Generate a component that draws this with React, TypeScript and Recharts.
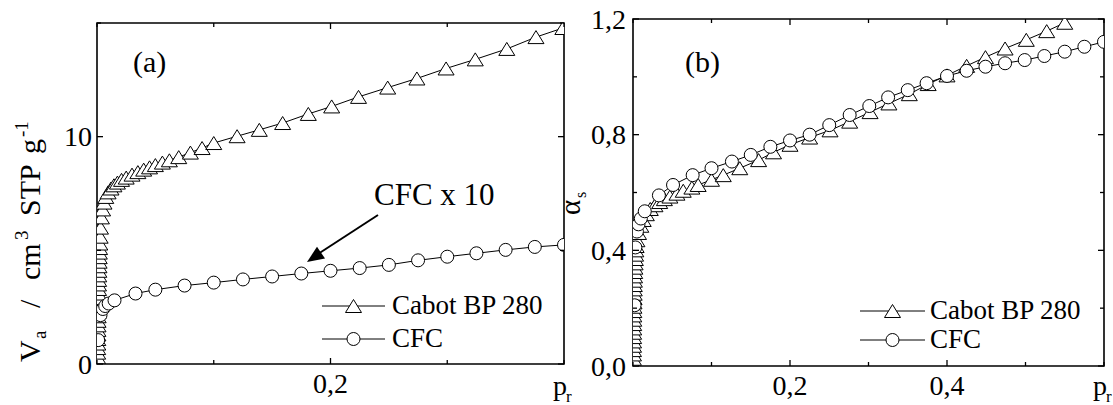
import { Legend, Line, LineChart, ReferenceArea, XAxis, YAxis } from "recharts"

const FONT = '"Liberation Serif", "Times New Roman", serif'

// ---- panel (a): adsorbed volume vs relative pressure
const cabotAP = [
  0.0005, 0.0005, 0.0006, 0.0006, 0.0007, 0.0007, 0.0008, 0.0008, 0.0009, 0.0009, 0.001, 0.001, 0.0011, 0.0011,
  0.0012, 0.0012, 0.0013, 0.0013, 0.0014, 0.0015, 0.0016, 0.0017, 0.0018, 0.0019, 0.002, 0.0022, 0.0024, 0.0027,
  0.003, 0.0038, 0.0048, 0.006, 0.0075, 0.0095, 0.012, 0.0145, 0.0175, 0.021, 0.025, 0.03, 0.035, 0.04, 0.045,
  0.05, 0.056, 0.062, 0.07, 0.08, 0.09, 0.1, 0.12, 0.139, 0.159, 0.181, 0.201, 0.224, 0.249, 0.274, 0.299, 0.324,
  0.351, 0.376, 0.399,
]
const cabotAV = [
  0.1, 0.3, 0.5, 0.7, 0.9, 1.1, 1.3, 1.5, 1.7, 1.9, 2.1, 2.3, 2.5, 2.7, 2.9, 3.1, 3.3, 3.5, 3.7, 3.9, 4.1, 4.3, 4.5,
  4.7, 4.9, 5.1, 5.3, 5.6, 6.0, 6.45, 6.8, 7.1, 7.35, 7.55, 7.72, 7.86, 7.98, 8.1, 8.2, 8.33, 8.44, 8.55, 8.65, 8.75,
  8.86, 8.96, 9.1, 9.3, 9.5, 9.72, 10.02, 10.3, 10.6, 11.0, 11.33, 11.75, 12.16, 12.56, 13.0, 13.4, 13.86, 14.38,
  14.78,
]
const cfcAP = [
  0.001, 0.003, 0.005, 0.007, 0.01, 0.015, 0.033, 0.05, 0.075, 0.1, 0.125, 0.15, 0.175, 0.2, 0.225, 0.25, 0.275,
  0.3, 0.325, 0.35, 0.375, 0.4,
]
const cfcAV = [
  1.05, 2.15, 2.42, 2.55, 2.66, 2.8, 3.1, 3.27, 3.45, 3.58, 3.72, 3.85, 3.98, 4.1, 4.22, 4.36, 4.56, 4.72, 4.87,
  5.02, 5.15, 5.24,
]
const aXTicks = [0, 0.1, 0.2, 0.3, 0.4]
const aXLabels = [0.2]
const aYTicks = [0, 5, 10, 15]
const aYLabels = [0, 10]

// ---- panel (b): alpha_s vs relative pressure
const cabotBP = [
  0.0005, 0.0005, 0.0006, 0.0006, 0.0007, 0.0007, 0.0008, 0.0008, 0.0009, 0.0009, 0.001, 0.001, 0.0011, 0.0012,
  0.0013, 0.0014, 0.0015, 0.0016, 0.0017, 0.0018, 0.002, 0.0022, 0.0024, 0.0027, 0.003, 0.0033, 0.0036, 0.004,
  0.005, 0.007, 0.01, 0.013, 0.017, 0.022, 0.028, 0.034, 0.04, 0.047, 0.056, 0.064, 0.075, 0.083, 0.1, 0.115,
  0.136, 0.16, 0.179, 0.2, 0.225, 0.251, 0.276, 0.302, 0.326, 0.352, 0.376, 0.4, 0.425, 0.449, 0.474, 0.501, 0.527,
  0.55,
]
const cabotBA = [
  0.01, 0.025, 0.04, 0.055, 0.07, 0.085, 0.1, 0.115, 0.13, 0.145, 0.16, 0.175, 0.19, 0.205, 0.22, 0.235, 0.25,
  0.265, 0.28, 0.295, 0.31, 0.325, 0.34, 0.355, 0.37, 0.385, 0.4, 0.415, 0.435, 0.46, 0.485, 0.505, 0.525, 0.543,
  0.556, 0.567, 0.577, 0.586, 0.596, 0.606, 0.617, 0.626, 0.644, 0.66, 0.684, 0.712, 0.739, 0.765, 0.79, 0.815,
  0.845, 0.878, 0.908, 0.94, 0.975, 1.005, 1.038, 1.068, 1.098, 1.128, 1.158, 1.187,
]
const cfcBP = [
  0.002, 0.003, 0.005, 0.007, 0.01, 0.015, 0.033, 0.051, 0.076, 0.1, 0.126, 0.15, 0.175, 0.2, 0.225, 0.25, 0.276,
  0.301, 0.325, 0.35, 0.374, 0.4, 0.425, 0.449, 0.474, 0.499, 0.524, 0.55, 0.575, 0.6,
]
const cfcBA = [
  0.21, 0.41, 0.465, 0.49, 0.51, 0.535, 0.59, 0.626, 0.66, 0.684, 0.707, 0.73, 0.758, 0.78, 0.8, 0.833, 0.868,
  0.899, 0.929, 0.954, 0.978, 1.003, 1.021, 1.035, 1.047, 1.058, 1.072, 1.087, 1.104, 1.121,
]
const bXTicks = [0, 0.1, 0.2, 0.3, 0.4, 0.5, 0.6]
const bXLabels = [0.2, 0.4]
const bYTicks = [0, 0.2, 0.4, 0.6, 0.8, 1, 1.2]
const bYLabels = [0, 0.4, 0.8, 1.2]

const legendOrder = ["Cabot BP 280", "CFC"]

const zip = (xs: number[], ys: number[]) => xs.map((p, i) => ({ p, y: ys[i] }))

const Triangle = (props: any) => {
  const { cx, cy } = props
  if (cx == null || cy == null) return <g key={props.index} />
  return (
    <path
      key={props.index}
      d={`M${cx},${cy - 6.5} L${cx + 8},${cy + 6.5} L${cx - 8},${cy + 6.5} Z`}
      fill="#fff"
      stroke="#000"
      strokeWidth={1}
    />
  )
}

const circleDot = { r: 6.5, fill: "#fff", stroke: "#000", strokeWidth: 1 }

const comma = (v: number, digits: number) => v.toFixed(digits).replace(".", ",")

// ticks point inwards and are mirrored on the opposite side of the frame
function xTick(labels: number[], plotH: number) {
  return (props: any) => {
    const { x, y, payload } = props
    const major = labels.includes(payload.value)
    const len = major ? 6 : 4
    return (
      <g>
        <line x1={x} y1={y} x2={x} y2={y - len} stroke="#000" strokeWidth={1.3} />
        <line x1={x} y1={y - plotH} x2={x} y2={y - plotH + len} stroke="#000" strokeWidth={1.3} />
        {major && (
          <text x={x} y={y + 29} textAnchor="middle" fontSize={28} fontFamily={FONT} fill="#000">
            {comma(payload.value, 1)}
          </text>
        )}
      </g>
    )
  }
}

function yTick(labels: number[], plotW: number, digits: number, gap: number) {
  return (props: any) => {
    const { x, y, payload } = props
    const major = labels.includes(payload.value)
    const len = major ? 6 : 4
    return (
      <g>
        <line x1={x} y1={y} x2={x + len} y2={y} stroke="#000" strokeWidth={1.3} />
        <line x1={x + plotW} y1={y} x2={x + plotW - len} y2={y} stroke="#000" strokeWidth={1.3} />
        {major && (
          <text x={x - gap} y={y} dy="0.35em" textAnchor="end" fontSize={28} fontFamily={FONT} fill="#000">
            {comma(payload.value, digits)}
          </text>
        )}
      </g>
    )
  }
}

function legendContent(rowH: number, lineW: number, gap: number) {
  return (props: any) => {
    const items = [...(props.payload || [])].sort(
      (a: any, b: any) => legendOrder.indexOf(a.value) - legendOrder.indexOf(b.value),
    )
    return (
      <div style={{ fontFamily: FONT, fontSize: 27, color: "#000" }}>
        {items.map((entry: any) => (
          <div
            key={entry.value}
            style={{ display: "flex", alignItems: "center", height: rowH, lineHeight: `${rowH}px` }}
          >
            <svg width={lineW} height={18} style={{ display: "block" }}>
              <line x1={0} y1={9} x2={lineW} y2={9} stroke="#000" strokeWidth={1} />
              {entry.value === "CFC" ? (
                <circle cx={lineW / 2} cy={9} r={6.5} fill="#fff" stroke="#000" strokeWidth={1} />
              ) : (
                <path
                  d={`M${lineW / 2},2.5 L${lineW / 2 + 8},15.5 L${lineW / 2 - 8},15.5 Z`}
                  fill="#fff"
                  stroke="#000"
                  strokeWidth={1}
                />
              )}
            </svg>
            <span style={{ marginLeft: gap, whiteSpace: "nowrap" }}>{entry.value}</span>
          </div>
        ))}
      </div>
    )
  }
}

function PanelA() {
  const plotW = 467
  const plotH = 341
  return (
    <LineChart width={580} height={405} margin={{ top: 23, right: 16, bottom: 40, left: 96 }}>
      <XAxis
        type="number"
        dataKey="p"
        domain={[0, 0.4]}
        ticks={aXTicks}
        interval={0}
        allowDataOverflow
        axisLine={false}
        tickLine={false}
        tickSize={0}
        tickMargin={0}
        height={1}
        tick={xTick(aXLabels, plotH)}
      />
      <YAxis
        type="number"
        domain={[0, 15]}
        ticks={aYTicks}
        interval={0}
        allowDataOverflow
        axisLine={false}
        tickLine={false}
        tickSize={0}
        tickMargin={0}
        width={1}
        tick={yTick(aYLabels, plotW, 0, 5)}
      />
      <Line
        data={zip(cabotAP, cabotAV)}
        dataKey="y"
        name="Cabot BP 280"
        stroke="#000"
        strokeWidth={1}
        dot={Triangle}
        isAnimationActive={false}
      />
      <Line
        data={zip(cfcAP, cfcAV)}
        dataKey="y"
        name="CFC"
        stroke="#000"
        strokeWidth={1}
        dot={circleDot}
        isAnimationActive={false}
      />
      <ReferenceArea x1={0} x2={0.4} y1={0} y2={15} fill="none" stroke="#000" strokeWidth={1.6} ifOverflow="visible" />
      <Legend
        layout="vertical"
        align="center"
        verticalAlign="middle"
        wrapperStyle={{ left: 322, top: 289, width: 240 }}
        content={legendContent(33, 63, 7)}
      />
    </LineChart>
  )
}

function PanelB() {
  const plotW = 471
  const plotH = 347
  return (
    <LineChart width={533} height={405} margin={{ top: 19, right: 9, bottom: 38, left: 52 }}>
      <XAxis
        type="number"
        dataKey="p"
        domain={[0, 0.6]}
        ticks={bXTicks}
        interval={0}
        allowDataOverflow
        axisLine={false}
        tickLine={false}
        tickSize={0}
        tickMargin={0}
        height={1}
        tick={xTick(bXLabels, plotH)}
      />
      <YAxis
        type="number"
        domain={[0, 1.2]}
        ticks={bYTicks}
        interval={0}
        allowDataOverflow
        axisLine={false}
        tickLine={false}
        tickSize={0}
        tickMargin={0}
        width={1}
        tick={yTick(bYLabels, plotW, 1, 7)}
      />
      <Line
        data={zip(cabotBP, cabotBA)}
        dataKey="y"
        name="Cabot BP 280"
        stroke="#000"
        strokeWidth={1}
        dot={Triangle}
        isAnimationActive={false}
      />
      <Line
        data={zip(cfcBP, cfcBA)}
        dataKey="y"
        name="CFC"
        stroke="#000"
        strokeWidth={1}
        dot={circleDot}
        isAnimationActive={false}
      />
      <ReferenceArea x1={0} x2={0.6} y1={0} y2={1.2} fill="none" stroke="#000" strokeWidth={1.6} ifOverflow="visible" />
      <Legend
        layout="vertical"
        align="center"
        verticalAlign="middle"
        wrapperStyle={{ left: 280, top: 296, width: 240 }}
        content={legendContent(29, 65, 5)}
      />
    </LineChart>
  )
}

function Annotations() {
  return (
    <svg
      width={1113}
      height={405}
      style={{ position: "absolute", left: 0, top: 0, pointerEvents: "none" }}
      fontFamily={FONT}
      fill="#000"
    >
      <text x={133} y={72} fontSize={30}>(a)</text>
      <text x={685} y={72} fontSize={30}>(b)</text>
      <text x={374} y={205} fontSize={31}>CFC x 10</text>
      <line x1={378} y1={215} x2={318} y2={254} stroke="#000" strokeWidth={2} />
      <polygon points="307,262 325,258.5 317,246.8" fill="#000" />
      <g transform="translate(40,362) rotate(-90)" fontSize={30}>
        <text x={0} y={0}>V</text>
        <text x={23} y={6} fontSize={19}>a</text>
        <text x={54} y={0}>/</text>
        <text x={82} y={0}>cm</text>
        <text x={122} y={-12} fontSize={19}>3</text>
        <text x={146} y={0}>STP</text>
        <text x={208} y={0}>g</text>
        <text x={225} y={-12} fontSize={19}>-1</text>
      </g>
      <g transform="translate(580,215) rotate(-90)">
        <text x={0} y={0} fontSize={29}>α</text>
        <text x={17} y={6} fontSize={16}>s</text>
      </g>
      <text x={553} y={395} fontSize={28}>p</text>
      <text x={566} y={402} fontSize={17}>r</text>
      <text x={1093} y={395} fontSize={28}>p</text>
      <text x={1106} y={402} fontSize={17}>r</text>
    </svg>
  )
}

export default function App() {
  return (
    <div style={{ position: "absolute", left: 0, top: 0, width: 1113, height: 405, background: "#fff" }}>
      <div style={{ position: "absolute", left: 0, top: 0 }}>
        <PanelA />
      </div>
      <div style={{ position: "absolute", left: 580, top: 0 }}>
        <PanelB />
      </div>
      <Annotations />
    </div>
  )
}
